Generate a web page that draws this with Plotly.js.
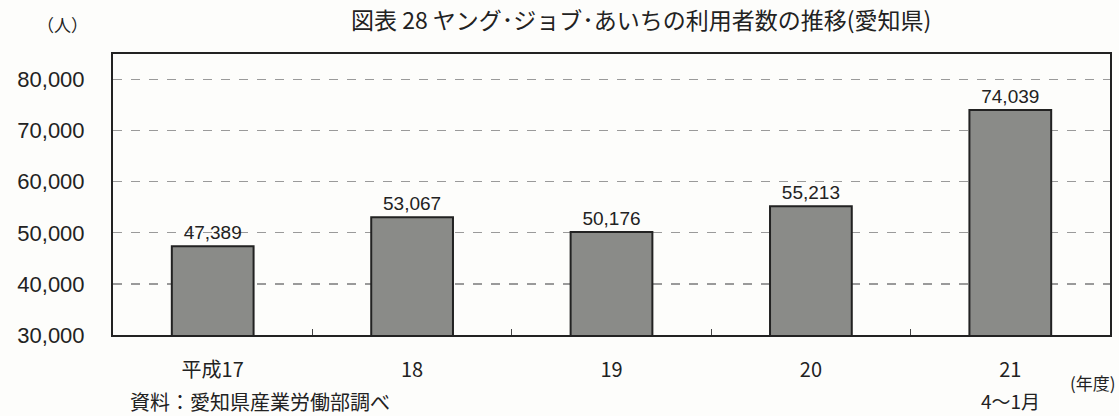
<!DOCTYPE html>
<html><head><meta charset="utf-8">
<script src="https://cdn.plot.ly/plotly-3.0.1.min.js"></script>
<style>html,body{margin:0;padding:0;background:#fdfdfb;}</style>
</head><body>
<div id="chart" style="width:1119px;height:416px;"></div>
<script>
const categories = ["平成17", "18", "19", "20", "21"];
const users = [47389, 53067, 50176, 55213, 74039];
const valueLabels = ["47,389", "53,067", "50,176", "55,213", "74,039"];
const yTicks = [30000, 40000, 50000, 60000, 70000, 80000];
const yTickLabels = ["30,000", "40,000", "50,000", "60,000", "70,000", "80,000"];
const lastPeriodNote = "4〜1月";

const FONT = "Liberation Sans, Arial, 'Noto Sans CJK JP', sans-serif";
const JP = "'Noto Sans CJK JP', sans-serif";

const trace = {
  type: "bar",
  x: categories,
  y: users,
  width: 0.41,
  marker: {color: "#8a8b88", line: {color: "#222", width: 2}},
  text: valueLabels,
  textposition: "outside",
  constraintext: "none",
  cliponaxis: false,
  textfont: {family: FONT, size: 19, color: "#222"},
  hoverinfo: "skip"
};

const layout = {
  width: 1119, height: 416,
  margin: {l: 113, r: 9, t: 54, b: 81},
  paper_bgcolor: "#fdfdfb",
  plot_bgcolor: "#fdfdfb",
  showlegend: false,
  xaxis: {
    type: "category",
    range: [-0.5, categories.length - 0.5],
    tickangle: 0,
    tickfont: {family: JP, size: 20, color: "#222"},
    ticks: "inside", ticklen: 6, tickcolor: "#444", tickson: "boundaries",
    showline: true, linecolor: "#222", linewidth: 2, mirror: true,
    showgrid: false,
    ticklabelstandoff: 16
  },
  yaxis: {
    range: [30000, 85000],
    tickvals: yTicks,
    ticktext: yTickLabels,
    tickfont: {family: FONT, size: 22, color: "#222"},
    showline: true, linecolor: "#222", linewidth: 2, mirror: true,
    showgrid: true, gridcolor: "#9a9a9a", griddash: "dash", gridwidth: 1.2,
    zeroline: false, ticks: "", ticklabelstandoff: 22
  },
  annotations: [
    {text: "図表 28 ヤング･ジョブ･あいちの利用者数の推移(愛知県)", xref: "paper", yref: "paper",
     x: 0.53, y: 1, yshift: 35, xanchor: "center", yanchor: "middle", showarrow: false,
     font: {family: JP, size: 23, color: "#222"}},
    {text: "（人）", xref: "paper", yref: "paper", x: -0.051, y: 1, yshift: 30,
     xanchor: "center", yanchor: "middle", showarrow: false,
     font: {family: JP, size: 17, color: "#222"}},
    {text: "(年度)", xref: "paper", yref: "paper", x: 1, y: 0, yshift: -47, xshift: 8,
     xanchor: "right", yanchor: "middle", showarrow: false,
     font: {family: JP, size: 17, color: "#222"}},
    {text: lastPeriodNote, xref: "x", yref: "paper", x: categories.length - 1, y: 0, yshift: -65,
     xanchor: "center", yanchor: "middle", showarrow: false,
     font: {family: JP, size: 19, color: "#222"}},
    {text: "資料：愛知県産業労働部調べ", xref: "paper", yref: "paper", x: 0.015, y: 0, yshift: -66,
     xanchor: "left", yanchor: "middle", showarrow: false,
     font: {family: JP, size: 20, color: "#222"}}
  ]
};

Plotly.newPlot("chart", [trace], layout, {displayModeBar: false, staticPlot: true});
</script>
</body></html>
